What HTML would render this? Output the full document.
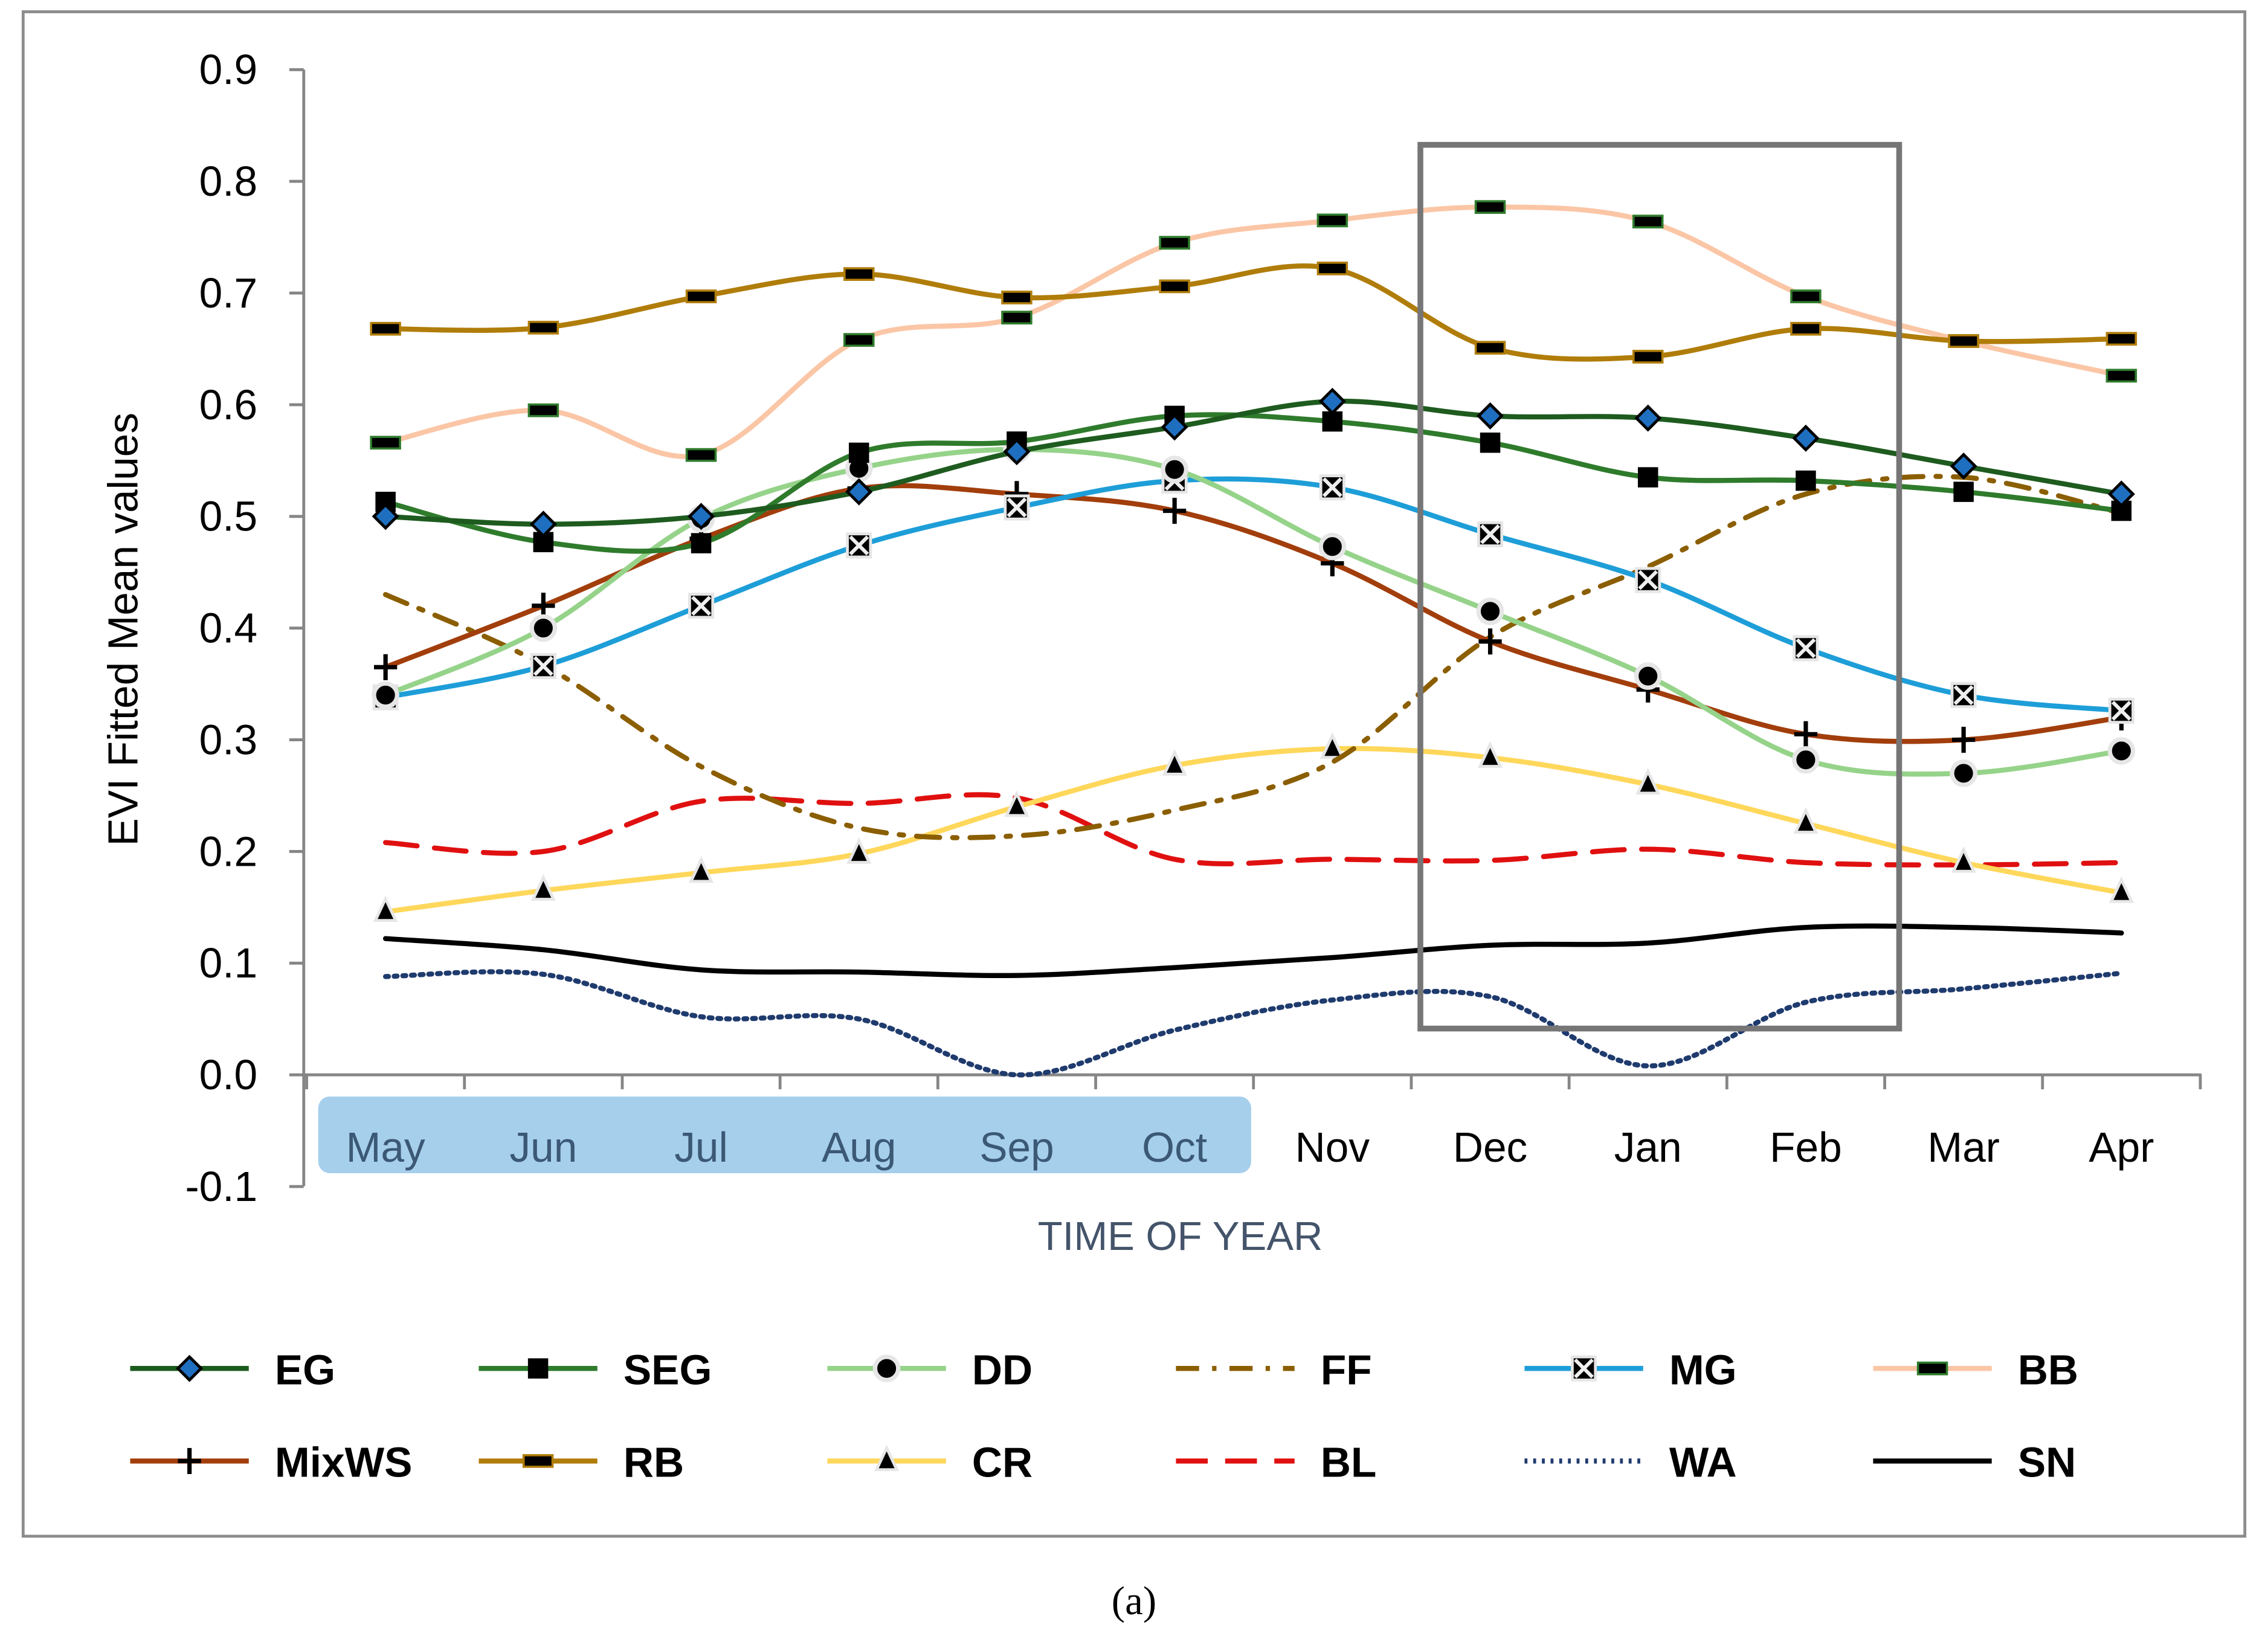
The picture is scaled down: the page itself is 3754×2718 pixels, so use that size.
<!DOCTYPE html>
<html><head><meta charset="utf-8"><style>
html,body{margin:0;padding:0;background:#fff;}
svg{display:block;}
text{font-family:"Liberation Sans",sans-serif;}
</style></head><body>
<svg id="chart" width="3754" height="2718" viewBox="0 0 1568 1135" xmlns="http://www.w3.org/2000/svg">
<rect x="16" y="8" width="1536" height="1054" fill="#fff" stroke="#8c8c8c" stroke-width="2"/>
<rect x="220" y="758" width="645" height="53" rx="8" fill="#a6cfec"/>
<g id="axes"></g>
<g id="series"></g>
<rect x="982" y="100" width="331" height="611" fill="none" stroke="#767676" stroke-width="4"/>
<g id="legend"></g>
<text x="0" y="0" transform="translate(95,435) rotate(-90)" text-anchor="middle" font-size="29" fill="#000">EVI Fitted Mean values</text>
<text x="816" y="864" text-anchor="middle" font-size="28" fill="#44546a">TIME OF YEAR</text>
<text x="784" y="1116" text-anchor="middle" font-size="28" style="font-family:'Liberation Serif',serif">(a)</text>
</svg>
<script>
const months=["May","Jun","Jul","Aug","Sep","Oct","Nov","Dec","Jan","Feb","Mar","Apr"];
const yTicks=[0.9,0.8,0.7,0.6,0.5,0.4,0.3,0.2,0.1,0.0,-0.1];
const EG=[0.50,0.493,0.50,0.522,0.558,0.58,0.603,0.59,0.588,0.57,0.545,0.52];
const SEG=[0.513,0.477,0.476,0.557,0.567,0.59,0.585,0.566,0.535,0.532,0.522,0.505];
const DD=[0.34,0.40,0.498,0.543,0.56,0.542,0.473,0.415,0.357,0.282,0.27,0.29];
const FF=[0.43,0.367,0.276,0.221,0.214,0.237,0.28,0.392,0.455,0.52,0.535,0.503];
const MG=[0.338,0.366,0.42,0.474,0.508,0.532,0.526,0.484,0.443,0.382,0.34,0.326];
const BB=[0.566,0.595,0.555,0.658,0.678,0.745,0.765,0.777,0.764,0.697,0.657,0.626];
const MixWS=[0.365,0.42,0.48,0.525,0.52,0.505,0.458,0.388,0.345,0.305,0.30,0.32];
const RB=[0.668,0.669,0.697,0.717,0.696,0.706,0.722,0.651,0.643,0.668,0.657,0.659];
const CR=[0.146,0.165,0.181,0.198,0.24,0.277,0.292,0.284,0.26,0.225,0.19,0.163];
const BL=[0.208,0.20,0.245,0.243,0.248,0.193,0.193,0.192,0.202,0.19,0.188,0.19];
const WA=[0.088,0.09,0.052,0.05,0.0,0.04,0.067,0.07,0.008,0.065,0.077,0.091];
const SN=[0.122,0.112,0.094,0.092,0.089,0.096,0.105,0.116,0.118,0.132,0.132,0.127];

const NS="http://www.w3.org/2000/svg";
const X0=212,DX=109.1;
function xs(i){return X0+DX*(i+0.5);}
function ys(v){return 743-v*772.2;}
function mk(tag,at,parent){const e=document.createElementNS(NS,tag);for(const k in at)e.setAttribute(k,at[k]);parent.appendChild(e);return e;}

const axes=document.getElementById('axes');
let yl=mk('line',{x1:210,y1:48,x2:210,y2:820,stroke:'#868686','stroke-width':2},axes);


yTicks.forEach(t=>{
 const l=mk('line',{x1:200,x2:210,y1:ys(t),y2:ys(t),stroke:'#868686','stroke-width':2},axes);
 
 
 const tx=mk('text',{x:178,y:ys(t)+10,'text-anchor':'end','font-size':29},axes);
 tx.textContent=t.toFixed(1);
 
 
});
let xl=mk('line',{x1:210,y1:743,x2:1522,y2:743,stroke:'#868686','stroke-width':2},axes);


for(let i=0;i<=12;i++){
 const x=X0+DX*i;
 const l=mk('line',{x1:x,x2:x,y1:743,y2:753,stroke:'#868686','stroke-width':2},axes);
 
 
}
months.forEach((m,i)=>{
 const tx=mk('text',{x:xs(i),y:803,'text-anchor':'middle','font-size':29,fill:i<6?'#3b5875':'#000'},axes);
 tx.textContent=m;
 
 
});

function smooth(vals){
 const p=vals.map((v,i)=>[xs(i),ys(v)]);
 let d=`M${p[0][0]},${p[0][1]}`;
 for(let i=0;i<p.length-1;i++){
  const p0=p[i-1]||p[i],p1=p[i],p2=p[i+1],p3=p[i+2]||p2;
  const c1=[p1[0]+(p2[0]-p0[0])/6,p1[1]+(p2[1]-p0[1])/6];
  const c2=[p2[0]-(p3[0]-p1[0])/6,p2[1]-(p3[1]-p1[1])/6];
  d+=` C${c1[0]},${c1[1]} ${c2[0]},${c2[1]} ${p2[0]},${p2[1]}`;
 }
 return d;
}
function marker(type,x,y,g,c){
 if(type==='diamond')mk('path',{d:`M${x},${y-8}L${x+8},${y}L${x},${y+8}L${x-8},${y}Z`,fill:'#1f6fc0',stroke:'#000','stroke-width':2},g);
 else if(type==='square')mk('rect',{x:x-7,y:y-7,width:14,height:14,fill:'#000'},g);
 else if(type==='circle'){mk('circle',{cx:x,cy:y,r:8,fill:'#000',stroke:'#e6e6e6','stroke-width':3},g);}
 else if(type==='xsq'){mk('rect',{x:x-8,y:y-8,width:16,height:16,fill:'#000',stroke:'#e6e6e6','stroke-width':2},g);mk('path',{d:`M${x-6},${y-6}L${x+6},${y+6}M${x+6},${y-6}L${x-6},${y+6}`,stroke:'#eee','stroke-width':2.5},g);}
 else if(type==='bar'){mk('rect',{x:x-10,y:y-4,width:20,height:8,fill:'#000',stroke:c,'stroke-width':1.5},g);}
 else if(type==='plus')mk('path',{d:`M${x-8},${y}L${x+8},${y}M${x},${y-9}L${x},${y+9}`,stroke:'#000','stroke-width':3},g);
 else if(type==='tri')mk('path',{d:`M${x},${y-9}L${x+7},${y+6}L${x-7},${y+6}Z`,fill:'#000',stroke:'#e6e6e6','stroke-width':2},g);
}
const S=[
 {n:'SN',d:SN,c:'#000',w:3.5,m:null},
 {n:'WA',d:WA,c:'#1f3b6e',w:3.5,m:null,dash:'2,4'},
 {n:'BL',d:BL,c:'#e01010',w:3.5,m:null,dash:'22,12'},
 {n:'CR',d:CR,c:'#ffd75a',w:3.5,m:'tri'},
 {n:'FF',d:FF,c:'#8b5e00',w:3.5,m:null,dash:'16,9,3,9'},
 {n:'MixWS',d:MixWS,c:'#a23e0c',w:3.5,m:'plus'},
 {n:'MG',d:MG,c:'#1e9ed8',w:3.5,m:'xsq'},
 {n:'DD',d:DD,c:'#96d38a',w:3.5,m:'circle'},
 {n:'SEG',d:SEG,c:'#2f7b2c',w:3.5,m:'square'},
 {n:'EG',d:EG,c:'#1e5b1f',w:3.5,m:'diamond'},
 {n:'BB',d:BB,c:'#fbc6a6',w:3.5,m:'bar',mc:'#2f7b2c'},
 {n:'RB',d:RB,c:'#b07d0a',w:3.5,m:'bar',mc:'#b07d0a'}
];
const sg=document.getElementById('series');
S.forEach(s=>{
 const g=mk('g',{},sg);
 
 
 const at={d:smooth(s.d),fill:'none',stroke:s.c,'stroke-width':s.w,'stroke-linecap':'round'};
 if(s.dash)at['stroke-dasharray']=s.dash;
 const p=mk('path',at,g);
 
 
 if(s.m)s.d.forEach((v,i)=>marker(s.m,xs(i),ys(v),g,s.mc));
});
const L=[['EG',0,0],['SEG',1,0],['DD',2,0],['FF',3,0],['MG',4,0],['BB',5,0],['MixWS',0,1],['RB',1,1],['CR',2,1],['BL',3,1],['WA',4,1],['SN',5,1]];
const lg=document.getElementById('legend');
L.forEach(([n,c,r])=>{
 const s=S.find(q=>q.n===n);
 const x=90+c*241,y=946+r*64;
 const g=mk('g',{},lg);
 
 
 const at={x1:x,x2:x+82,y1:y,y2:y,stroke:s.c,'stroke-width':3.5};
 if(s.dash)at['stroke-dasharray']=s.dash;
 mk('line',at,g);
 if(s.m)marker(s.m,x+41,y,g,s.mc);
 const t=mk('text',{x:x+100,y:y+11,'font-size':29,'font-weight':'bold'},g);
 t.textContent=n;
});
</script>
</body></html>
